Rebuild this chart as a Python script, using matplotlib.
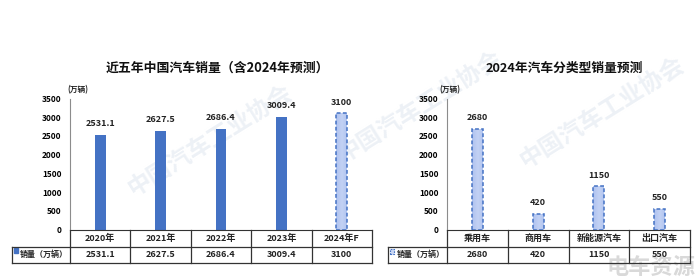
import numpy as np
import matplotlib.pyplot as plt
from matplotlib.colors import LinearSegmentedColormap

plt.rcParams['font.family'] = ['Noto Sans CJK SC', 'DejaVu Sans']
plt.rcParams['font.weight'] = 'bold'

# left panel data
years = ['2020年', '2021年', '2022年', '2023年', '2024年F']
sales = [2531.1, 2627.5, 2686.4, 3009.4, 3100]
sales_txt = ['2531.1', '2627.5', '2686.4', '3009.4', '3100']
forecast = [False, False, False, False, True]

# right panel data
types = ['乘用车', '商用车', '新能源汽车', '出口汽车']
type_sales = [2680, 420, 1150, 550]

yticks = [0, 500, 1000, 1500, 2000, 2500, 3000, 3500]
BLUE = '#4472C4'
W, H = 700, 279
light = LinearSegmentedColormap.from_list('light', ['#eef3fd', '#9fb6ec'])

fig = plt.figure(figsize=(7, 2.79), dpi=100)

# background layer for the watermarks, sits under everything
bg = fig.add_axes([0, 0, 1, 1], zorder=-5)
bg.axis('off')
for (x, y) in [(0.3, 0.5), (0.6, 0.62), (0.86, 0.6)]:
    bg.text(x, y, '中国汽车工业协会', rotation=32, fontsize=17, color='#edf1f6',
            ha='center', va='center', transform=bg.transAxes)
bg.text(0.93, 0.04, '电车资源', fontsize=16, color='#d9d9d9', ha='center',
        va='center', fontweight='bold', transform=bg.transAxes)


def px_axes(x0, x1, ytop, ybot):
    return fig.add_axes([x0 / W, 1 - ybot / H, (x1 - x0) / W, (ybot - ytop) / H])


def grad_bar(ax, bar):
    # light blue gradient fill clipped to the bar, dashed outline
    x, y = bar.get_x(), bar.get_y()
    w, h = bar.get_width(), bar.get_height()
    gx = np.linspace(0, 1, 40)
    g = 0.55 + 0.45 * np.abs(gx - 0.55)
    g = np.tile(g, (2, 1))
    im = ax.imshow(g, extent=[x, x + w, y, y + h], aspect='auto', cmap=light,
                   vmin=0, vmax=1, zorder=2, origin='lower')
    im.set_clip_path(bar)
    bar.set_facecolor('none')
    bar.set_edgecolor(BLUE)
    bar.set_linestyle((0, (2.5, 1.5)))
    bar.set_linewidth(1.1)
    bar.set_zorder(3)


def panel(ax, cats, vals, labels, dashed, label_w, key, unit_x):
    n = len(cats)
    xs = np.arange(n) + 0.5
    bars = ax.bar(xs, vals, width=0.18, color=BLUE, zorder=2)
    for b, d in zip(bars, dashed):
        if d:
            grad_bar(ax, b)
    for x, v, t in zip(xs, vals, labels):
        ax.annotate(t, (x, v), xytext=(0, 5), textcoords='offset points',
                    ha='center', va='bottom', fontsize=6.5, fontweight='bold',
                    color='#222222')
    ax.set_xlim(0, n)
    ax.set_ylim(0, 3500)
    ax.set_yticks(yticks)
    ax.set_xticks([])
    ax.tick_params(axis='y', length=0, labelsize=6, pad=6)
    for lb in ax.get_yticklabels():
        lb.set_fontweight('bold')
    for s in ['top', 'right']:
        ax.spines[s].set_visible(False)
    ax.spines['left'].set_color('#8c8c8c')
    ax.spines['bottom'].set_color('#333333')
    ax.set_facecolor('none')

    # data table under the axis
    tr = ax.get_xaxis_transform()
    r1, r2 = -0.13, -0.252
    lk = dict(color='#333333', lw=0.9, transform=tr, clip_on=False)
    ax.plot([0, n], [r1, r1], **lk)
    ax.plot([-label_w, n], [r2, r2], **lk)
    ax.plot([-label_w, 0], [r1, r1], **lk)
    ax.plot([-label_w, -label_w], [r1, r2], **lk)
    for i in range(n + 1):
        ax.plot([i, i], [0, r2], **lk)
    for x, c, t in zip(xs, cats, labels):
        ax.text(x, (0 + r1) / 2, c, transform=tr, ha='center', va='center',
                fontsize=6.5, fontweight='bold', color='#222222')
        ax.text(x, (r1 + r2) / 2, t, transform=tr, ha='center', va='center',
                fontsize=6.5, fontweight='bold', color='#222222')
    ax.text(-0.04, (r1 + r2) / 2, '销量（万辆）', transform=tr,
            ha='right', va='center', fontsize=5.8, fontweight='bold',
            color='#222222')
    kx = -label_w + 0.03
    if key == 'solid':
        ax.add_patch(plt.Rectangle((kx, -0.183), 0.07, 0.045, transform=tr,
                                   color=BLUE, clip_on=False))
    else:
        ax.add_patch(plt.Rectangle((kx, -0.186), 0.06, 0.04, transform=tr,
                                   facecolor='#c9d7f4', edgecolor=BLUE,
                                   lw=0.8, ls=(0, (1.5, 1)), clip_on=False))
    ax.text(unit_x, 1.03, '(万辆)', transform=ax.transAxes, ha='left',
            va='bottom', fontsize=5.5, fontweight='bold', color='#222222')


ax1 = px_axes(70, 372, 98.5, 229.5)
panel(ax1, years, sales, sales_txt, forecast, 0.96, 'solid', -0.01)

ax2 = px_axes(447, 690, 98.5, 229.5)
panel(ax2, types, type_sales, [str(v) for v in type_sales], [True] * 4, 0.97,
      'dash', -0.03)

fig.text(217 / W, 1 - 68 / H, '近五年中国汽车销量（含2024年预测）', ha='center',
         va='center', fontsize=9.3, fontweight='bold', color='#111111')
fig.text(564 / W, 1 - 68 / H, '2024年汽车分类型销量预测', ha='center',
         va='center', fontsize=9.2, fontweight='bold', color='#111111')

fig.savefig('out.png', dpi=100)
